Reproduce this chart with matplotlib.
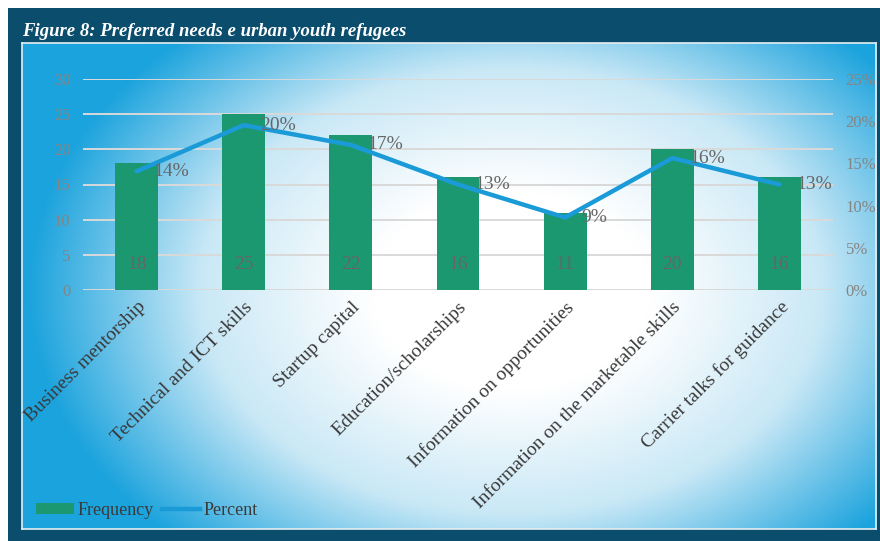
import numpy as np
import matplotlib as mpl
import matplotlib.pyplot as plt
from matplotlib.colors import LinearSegmentedColormap
from matplotlib.patches import Rectangle
from matplotlib.lines import Line2D
from matplotlib.patches import Patch

mpl.use("Agg")

categories = [
    "Business mentorship",
    "Technical and ICT skills",
    "Startup capital",
    "Education/scholarships",
    "Information on opportunities",
    "Information on the marketable skills",
    "Carrier talks for guidance",
]
frequency = [18, 25, 22, 16, 11, 20, 16]
percent = [14.06, 19.53, 17.19, 12.50, 8.59, 15.63, 12.50]
percent_labels = ["14%", "20%", "17%", "13%", "9%", "16%", "13%"]

W, H = 880, 541
serif = "Liberation Serif"
grey = "#858585"
bar_color = "#1c9870"
line_color = "#1a9bd8"

fig = plt.figure(figsize=(W / 100, H / 100), dpi=100)
fig.patch.set_facecolor("white")

def fx(px):
    return px / W

def fy(py):
    return 1 - py / H

# dark frame
fig.patches.append(Rectangle((fx(8), 0), 1 - fx(8), fy(8), transform=fig.transFigure,
                             facecolor="#0b4d6c", edgecolor="none", zorder=0))

# gradient panel
bg = fig.add_axes([fx(22), fy(529), fx(876) - fx(22), fy(43) - fy(529)], zorder=1)
yy, xx = np.mgrid[43:529:2, 22:876:2]
d = np.sqrt(((xx - 510) / 460.0) ** 2 + ((yy - 290) / 330.0) ** 2)
d = np.clip((d - 0.3) / 0.75, 0, 1)
cmap = LinearSegmentedColormap.from_list("bg", ["#ffffff", "#c9e8f6", "#1ba3dd"])
bg.imshow(d, cmap=cmap, aspect="auto", extent=[0, 1, 0, 1], vmin=0, vmax=1)
bg.set_xlim(0, 1)
bg.set_ylim(0, 1)
for s in bg.spines.values():
    s.set_edgecolor("#e6eef2")
    s.set_linewidth(1.2)
bg.set_xticks([])
bg.set_yticks([])

fig.text(fx(22), fy(36), "Figure 8: Preferred needs e urban youth refugees", color="white",
         fontsize=13.5, fontweight="bold", fontstyle="italic", family=serif, va="baseline")

ax = fig.add_axes([fx(83), fy(290), fx(833) - fx(83), fy(79) - fy(290)], zorder=2)
ax.patch.set_alpha(0)
x = np.arange(len(categories))
ax.bar(x, frequency, width=0.4, color=bar_color, zorder=2)
ax.set_xlim(-0.5, len(categories) - 0.5)
ax.set_ylim(0, 30)
ax.set_yticks(range(0, 31, 5))
ax.grid(axis="y", color="#d9d9d9", linewidth=1.4, zorder=0)
ax.set_axisbelow(True)
for s in ax.spines.values():
    s.set_visible(False)
ax.tick_params(length=0)
ax.tick_params(axis="y", labelcolor=grey, labelsize=12, pad=9)
for lab in ax.get_yticklabels():
    lab.set_family(serif)
ax.set_xticks(x)
ax.set_xticklabels(categories, rotation=45, ha="right", rotation_mode="anchor",
                   fontsize=14, family=serif, color="#3a3a3a")
ax.tick_params(axis="x", pad=6)
for xi, v in zip(x, frequency):
    ax.text(xi, 3.6, str(v), ha="center", va="center", fontsize=14, family=serif,
            color="#666666", zorder=4)

ax2 = ax.twinx()
ax2.set_zorder(3)
ax2.set_ylim(0, 25)
ax2.plot(x, percent, color=line_color, linewidth=3.2, solid_capstyle="round", zorder=3)
ax2.set_yticks(range(0, 26, 5))
ax2.set_yticklabels([f"{v}%" for v in range(0, 26, 5)], family=serif, color=grey, fontsize=12)
ax2.tick_params(length=0, pad=9)
for s in ax2.spines.values():
    s.set_visible(False)
for xi, p, lab in zip(x, percent, percent_labels):
    ax2.annotate(lab, (xi, p), xytext=(12, 0), textcoords="offset points", ha="left",
                 va="center", fontsize=14, family=serif, color="#666666")

handles = [Patch(facecolor=bar_color, label="Frequency"),
           Line2D([0], [0], color=line_color, linewidth=3.2, label="Percent")]
fig.legend(handles=handles, loc="lower left", bbox_to_anchor=(fx(20), fy(535)), ncol=2,
           frameon=False, prop={"family": serif, "size": 13}, labelcolor="#3a3a3a",
           handlelength=2.1, handleheight=0.55, handletextpad=0.2, columnspacing=0.45)

fig.savefig("out.png", dpi=100)
plt.close(fig)
